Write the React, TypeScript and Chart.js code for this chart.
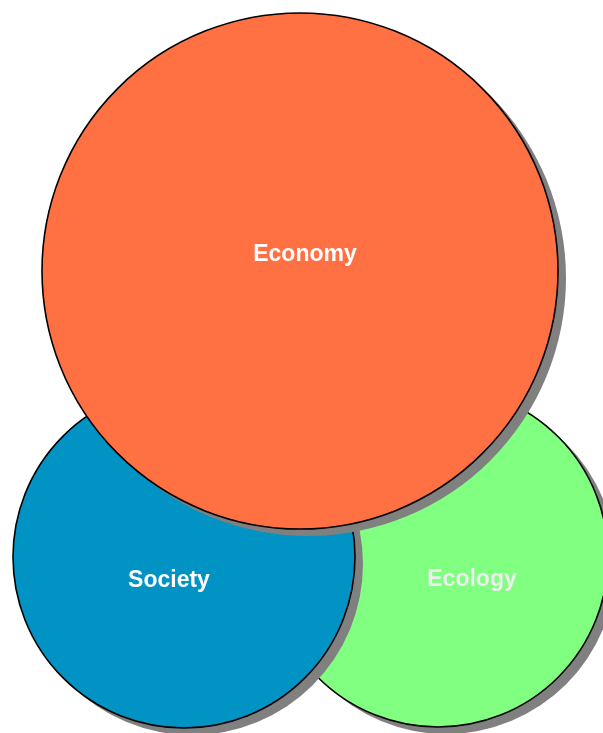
import React, { useEffect, useRef } from "react";
import { Chart, registerables } from "chart.js";

Chart.register(...registerables);

// Circles (data units equal canvas pixels: x 0..603, y 0..733 downward)
const circleNames = ["Economy", "Society", "Ecology"];
const circleX = [300, 184, 438];
const circleY = [271, 557, 557];
const circleR = [258, 171, 170];
const circleColors = ["#FF7043", "#0093C4", "#80FF80"];
const labelX = [305, 169, 472];
const labelY = [261, 587, 586];
const labelColors = ["#FFFFFF", "#FFFFFF", "#EEEEEE"];

const SHADOW_DX = 8;
const SHADOW_DY = 7;

export default function App() {
  const ref = useRef<HTMLCanvasElement | null>(null);

  useEffect(() => {
    if (!ref.current) return;

    const datasets: any[] = [];
    circleNames.forEach((name, i) => {
      datasets.push({
        label: name,
        data: [{ x: circleX[i], y: circleY[i], r: circleR[i] }],
        backgroundColor: circleColors[i],
        borderColor: "#000000",
        borderWidth: 1.6,
        clip: false,
      });
      datasets.push({
        label: name + " shadow",
        shadow: true,
        data: [{ x: circleX[i], y: circleY[i], r: circleR[i] }],
        backgroundColor: "#808080",
        borderColor: "#808080",
        borderWidth: 0,
        clip: false,
      });
    });

    const shadowPlugin = {
      id: "shadowShift",
      beforeDatasetDraw(chart: any, args: any) {
        const ds = chart.data.datasets[args.index];
        chart.ctx.save();
        if (ds.shadow) chart.ctx.translate(SHADOW_DX, SHADOW_DY);
      },
      afterDatasetDraw(chart: any) {
        chart.ctx.restore();
      },
    };

    const labelPlugin = {
      id: "circleLabels",
      afterDatasetsDraw(chart: any) {
        const ctx = chart.ctx;
        const xs = chart.scales.x;
        const ys = chart.scales.y;
        ctx.save();
        ctx.font = "bold 23px 'Liberation Sans', Arial, sans-serif";
        ctx.textAlign = "center";
        ctx.textBaseline = "alphabetic";
        circleNames.forEach((name, i) => {
          ctx.fillStyle = labelColors[i];
          ctx.fillText(name, xs.getPixelForValue(labelX[i]), ys.getPixelForValue(labelY[i]));
        });
        ctx.restore();
      },
    };

    const chart = new Chart(ref.current, {
      type: "bubble",
      data: { datasets },
      options: {
        animation: false,
        responsive: true,
        maintainAspectRatio: false,
        events: [],
        layout: { padding: 0, autoPadding: false },
        plugins: { legend: { display: false }, tooltip: { enabled: false } },
        scales: {
          x: { type: "linear", min: 0, max: 603, display: false },
          y: { type: "linear", min: 0, max: 733, reverse: true, display: false },
        },
      } as any,
      plugins: [shadowPlugin, labelPlugin],
    });
    return () => chart.destroy();
  }, []);

  return (
    <div style={{ position: "fixed", left: 0, top: 0, width: 603, height: 733, background: "#fff" }}>
      <canvas ref={ref} />
    </div>
  );
}
